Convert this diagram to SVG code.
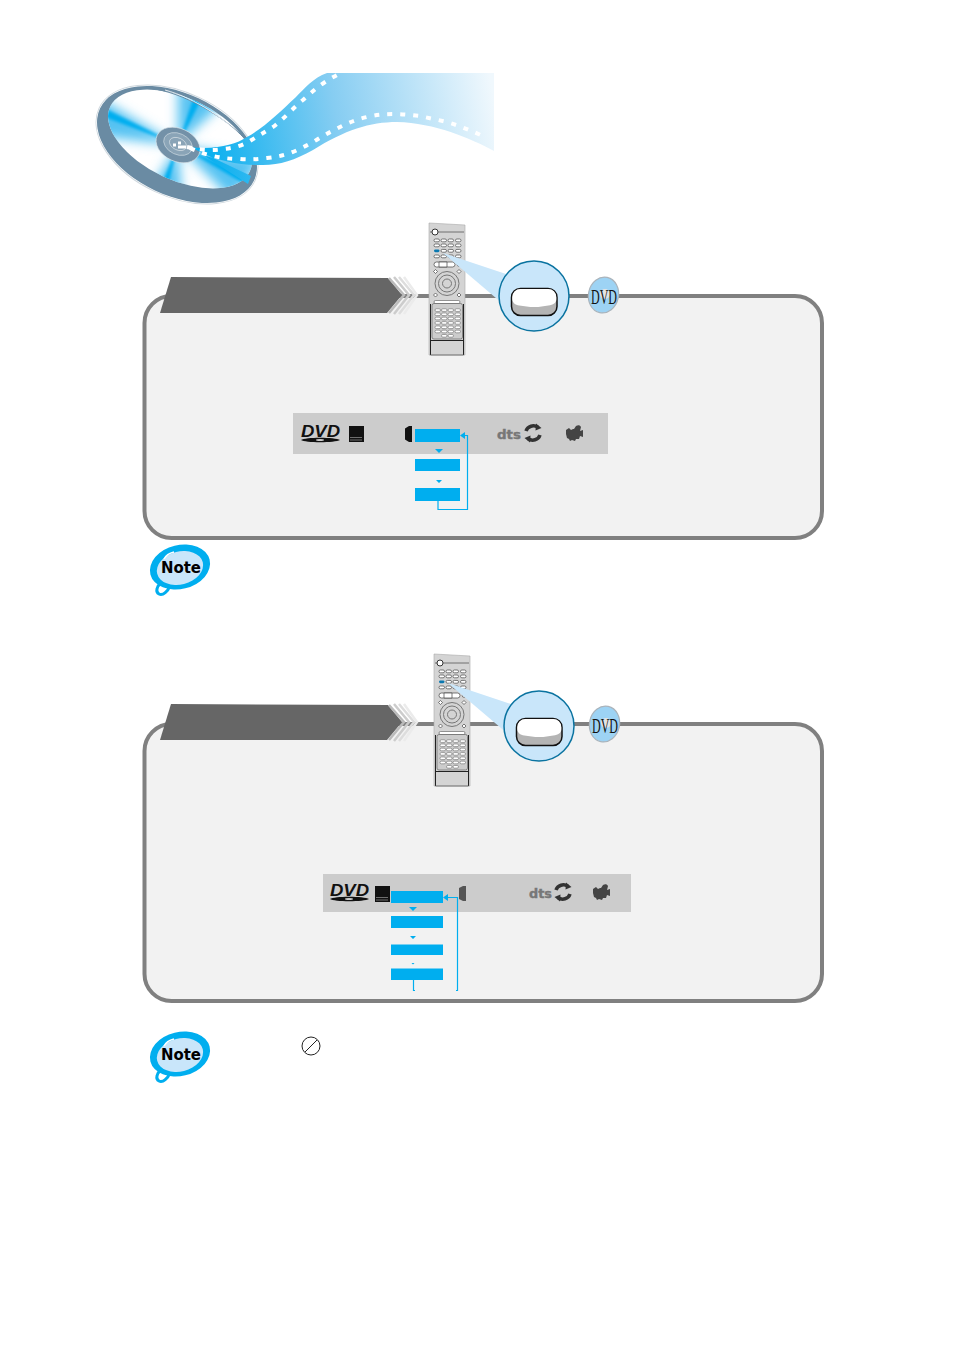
<svg xmlns="http://www.w3.org/2000/svg" xmlns:xlink="http://www.w3.org/1999/xlink" width="954" height="1351" viewBox="0 0 954 1351">
<style>
.panel{fill:#f2f2f2;stroke:#808080;stroke-width:4}
.blue{fill:#00aeef}
.link{fill:none;stroke:#00aeef;stroke-width:1.2}
.bar{fill:#ccc}
.k{fill:#fff;stroke:#444;stroke-width:.7}
.rl{fill:none;stroke:#777;stroke-width:1}
.perf{fill:none;stroke:#fff;stroke-width:4;stroke-dasharray:5 8}
</style>
<defs>
<linearGradient id="film" gradientUnits="userSpaceOnUse" x1="210" y1="150" x2="494" y2="100"><stop offset="0" stop-color="#0cb0ef"/><stop offset=".45" stop-color="#86cdf2"/><stop offset="1" stop-color="#f0f8fd"/></linearGradient>
<filter id="soft" x="-40%" y="-40%" width="180%" height="180%"><feGaussianBlur stdDeviation="6"/></filter>
<filter id="soft2" x="-30%" y="-30%" width="160%" height="160%"><feGaussianBlur stdDeviation="1.500"/></filter>
<clipPath id="discClip"><ellipse cx="180" cy="139" rx="77" ry="41" transform="rotate(25 180 139)"/></clipPath>
<g id="remote">
<path d="M429 223L465 225V355H429Z" fill="#d4d4d4" stroke="#aaa" stroke-width=".6"/>
<path d="M430 232H464" stroke="#555" stroke-width=".8"/>
<circle cx="435" cy="232" r="3" fill="#fff" stroke="#333" stroke-width="1"/>
<g>
<rect class="k" x="434" y="239" width="5.500" height="2.800" rx="1.400"/><rect class="k" x="441" y="239" width="5.500" height="2.800" rx="1.400"/><rect class="k" x="448" y="239" width="5.500" height="2.800" rx="1.400"/><rect class="k" x="455.500" y="239" width="5.500" height="2.800" rx="1.400"/>
<rect class="k" x="434" y="244" width="5.500" height="2.800" rx="1.400"/><rect class="k" x="441" y="244" width="5.500" height="2.800" rx="1.400"/><rect class="k" x="448" y="244" width="5.500" height="2.800" rx="1.400"/><rect class="k" x="455.500" y="244" width="5.500" height="2.800" rx="1.400"/>
<rect x="434" y="249.400" width="5.500" height="2.800" rx="1.400" fill="#0a78b0"/><rect class="k" x="441" y="249.400" width="5.500" height="2.800" rx="1.400"/><rect class="k" x="448" y="249.400" width="5.500" height="2.800" rx="1.400"/><rect class="k" x="455.500" y="249.400" width="5.500" height="2.800" rx="1.400"/>
<rect class="k" x="434" y="255" width="5.500" height="2.800" rx="1.400"/><rect class="k" x="441" y="255" width="5.500" height="2.800" rx="1.400"/><rect class="k" x="448" y="255" width="5.500" height="2.800" rx="1.400"/><rect class="k" x="455.500" y="255" width="5.500" height="2.800" rx="1.400"/>
</g>
<rect class="k" x="434" y="262" width="21" height="5" rx="2.500"/>
<path class="k" d="M439 262h8v5h-8z"/>
<circle class="k" cx="459" cy="264.500" r="1.800"/>
<path class="k" d="M435.500 269.500l2 2-2 2-2-2zM459 269.500l2 2-2 2-2-2zM435.500 293l2 2-2 2-2-2zM459 293l2 2-2 2-2-2z"/>
<circle class="rl" cx="447" cy="283.500" r="12"/><circle class="rl" cx="447" cy="283.500" r="8.500"/><circle class="rl" cx="447" cy="283.500" r="4.500"/>
<rect x="434" y="300.500" width="26" height="3" rx="1.500" fill="#fff" stroke="#555" stroke-width=".6"/>
<rect x="432" y="303.500" width="30.500" height="35.500" rx="2" fill="#ccc" stroke="#666" stroke-width=".7"/>
<g fill="#fff" stroke="#555" stroke-width=".5">
<rect x="435" y="308.800" width="5.500" height="2.600" rx="1.300"/><rect x="441.500" y="308.800" width="5.500" height="2.600" rx="1.300"/><rect x="448" y="308.800" width="5.500" height="2.600" rx="1.300"/><rect x="455" y="308.800" width="5.500" height="2.600" rx="1.300"/>
<rect x="435" y="313" width="5.500" height="2.600" rx="1.300"/><rect x="441.500" y="313" width="5.500" height="2.600" rx="1.300"/><rect x="448" y="313" width="5.500" height="2.600" rx="1.300"/><rect x="455" y="313" width="5.500" height="2.600" rx="1.300"/>
<rect x="435" y="317.200" width="5.500" height="2.600" rx="1.300"/><rect x="441.500" y="317.200" width="5.500" height="2.600" rx="1.300"/><rect x="448" y="317.200" width="5.500" height="2.600" rx="1.300"/><rect x="455" y="317.200" width="5.500" height="2.600" rx="1.300"/>
<rect x="435" y="321.600" width="5.500" height="2.600" rx="1.300"/><rect x="441.500" y="321.600" width="5.500" height="2.600" rx="1.300"/><rect x="448" y="321.600" width="5.500" height="2.600" rx="1.300"/><rect x="455" y="321.600" width="5.500" height="2.600" rx="1.300"/>
<rect x="435" y="326" width="5.500" height="2.600" rx="1.300"/><rect x="441.500" y="326" width="5.500" height="2.600" rx="1.300"/><rect x="448" y="326" width="5.500" height="2.600" rx="1.300"/><rect x="455" y="326" width="5.500" height="2.600" rx="1.300"/>
<rect x="435" y="330.200" width="5.500" height="2.600" rx="1.300"/><rect x="441.500" y="330.200" width="5.500" height="2.600" rx="1.300"/><rect x="448" y="330.200" width="5.500" height="2.600" rx="1.300"/><rect x="455" y="330.200" width="5.500" height="2.600" rx="1.300"/>
<rect x="441.500" y="334.500" width="5.500" height="2.600" rx="1.300"/><rect x="448" y="334.500" width="5.500" height="2.600" rx="1.300"/>
</g>
<path d="M430.500 304V355M463.500 304V355M430.500 340.500H463.500" fill="none" stroke="#222" stroke-width="1"/>
<path d="M430.500 355H463.500" stroke="#777" stroke-width="1"/>
</g>
<g id="callout">
<path d="M443 253L506 274L503 304Z" fill="#c9e6fa"/>
<circle cx="534" cy="296" r="35" fill="#c9e6fa" stroke="#0a73a0" stroke-width="1.500"/>
<rect x="511.500" y="288.500" width="45.500" height="27" rx="9" fill="#b4b4b4" stroke="#111" stroke-width="1.500"/>
<path d="M512.300 297a8 8 0 0 1 8-8h28a8 8 0 0 1 8 8v2c0 4-3 6-8 6.500l-10 1.500h-8l-11-1.500c-4-.5-7-3-7-6.500z" fill="#fff"/>
</g>
<g id="badge">
<ellipse cx="603.500" cy="295" rx="15" ry="18" transform="rotate(12 603.500 295)" fill="#9dd3f4" stroke="#aab4bc" stroke-width="1.200"/>
<circle cx="605" cy="294" r="5" fill="#e4e4e4"/>
<text x="604" y="303.500" font-family="'Liberation Serif',serif" font-size="21" text-anchor="middle" textLength="26" lengthAdjust="spacingAndGlyphs" fill="#111">DVD</text>
</g>
<g id="chev">
<path d="M160 313L171 277L388 278L402 295L387 313Z" fill="#666"/>
<path d="M389 278L404 295L389 313" fill="none" stroke="#bbb" stroke-width="2.500"/>
<path d="M394 277L409 295L394 314" fill="none" stroke="#ccc" stroke-width="2.500"/>
<path d="M399 277L414 295L399 314" fill="none" stroke="#ddd" stroke-width="2.500"/>
<path d="M404 277L417 295L404 314" fill="none" stroke="#ebebeb" stroke-width="2.500"/>
</g>
<g id="note">
<path d="M161 583c-4 3-6 9-2 11 4 2 9-3 11-8" fill="none" stroke="#00aeef" stroke-width="3"/>
<ellipse cx="180" cy="567" rx="30.500" ry="22" transform="rotate(-14 180 567)" fill="#00aeef"/>
<ellipse cx="180" cy="568" rx="23.500" ry="16.500" transform="rotate(-14 180 568)" fill="#c9e6fa"/>
<path d="M164 559c2-4 6-6 10-7" fill="none" stroke="#fff" stroke-width="1.500"/>
<text x="181" y="573" font-family="'DejaVu Sans',sans-serif" font-weight="700" font-size="16" text-anchor="middle" textLength="40" lengthAdjust="spacingAndGlyphs" fill="#000">Note</text>
</g>
<g id="dvdlogo">
<text x="320.500" y="437" font-family="'Liberation Sans',sans-serif" font-weight="700" font-style="italic" font-size="16" text-anchor="middle" textLength="39" lengthAdjust="spacingAndGlyphs" fill="#111">DVD</text>
<path d="M301 440c4-3 34-3 39 0c-5 3-35 3-39 0Z" fill="#111"/><ellipse cx="320" cy="440" rx="4" ry="1" fill="#ccc"/>
</g>
<g id="sq">
<rect x="349" y="426" width="15" height="16" fill="#111"/>
<path d="M350.500 437.500h12M350.500 440h12" stroke="#ccc" stroke-width="1" stroke-dasharray="1 1"/>
</g>
<g id="arrows">
<path d="M526 431a7.500 7 0 0 1 12-3.500M540 435a7.500 7 0 0 1-12 3.500" fill="none" stroke="#333" stroke-width="3.500"/>
<path d="M536 423.500l5.500 4.500-6 2.500zM530 442.500l-5.500-4.500 6-2.500z" fill="#333"/>
</g>
<path id="cam" d="M566 430l3-2 2 2 2-1h1l2-3c2-1 4-1 5 1l-1 4 3-1v7l-3-1-1 3h-3l-1 2-3-1-2 1-1-2-2-1-1-4z" fill="#444"/>
</defs>
<g id="disc">
<ellipse cx="177" cy="144.500" rx="86" ry="52" transform="rotate(25 177 144.500)" fill="#fff" stroke="#cfd8de" stroke-width="1"/>
<ellipse cx="177" cy="144.500" rx="85" ry="51" transform="rotate(25 177 144.500)" fill="#6a8ba3"/>
<ellipse cx="180" cy="139" rx="77" ry="41" transform="rotate(25 180 139)" fill="#fff"/>
<g clip-path="url(#discClip)">
<g fill="#55c2f2" filter="url(#soft)">
<path d="M178 145L96 96L96 136Z"/><path d="M178 145L178 84L222 104Z"/><path d="M178 145L145 198L182 200Z"/><path d="M178 145L262 160L232 200Z"/>
</g>
<g fill="#00aeef" filter="url(#soft2)">
<path d="M178 145L104 108L102 116Z"/><path d="M178 145L194 96L201 100Z"/><path d="M178 145L160 188L167 190Z"/><path d="M178 145L252 178L248 186Z"/>
</g>
</g>
<path d="M148 88C185 92 225 118 244 138" fill="none" stroke="#6a8ba3" stroke-width="1"/>
<path d="M165 90C195 98 228 120 246 142" fill="none" stroke="#fff" stroke-width=".8"/>
<ellipse cx="178" cy="145" rx="23" ry="16.500" transform="rotate(25 178 145)" fill="#7391a8" stroke="#dfe7ec" stroke-width=".6"/>
<ellipse cx="178" cy="144" rx="15" ry="10.500" transform="rotate(25 178 144)" fill="#8aa4b7" stroke="#c5d3dc" stroke-width=".7"/>
<ellipse cx="178" cy="144" rx="9" ry="6" transform="rotate(25 178 144)" fill="none" stroke="#dfe7ec" stroke-width=".6"/>
</g>
<g id="film-strip">
<path d="M190 147C215 150 235 145 247 137C265 127 280 112 296 97C305 88 313 78 327 73H494V151C470 138 435 123 397 122C370 122 345 130 313 150C295 160 280 165 263 165C240 166 220 160 203 155L248 184L251 176Z" fill="url(#film)"/>
<path d="M187 147C200 150 212 151 223 149C235 148 243 145 250 141C258 136 265 132 273 127C285 118 293 108 303 100C312 92 320 84 337 75" class="perf"/>
<path d="M190 148C198 152 205 154 213 156C222 158 230 159 240 159C250 160 258 159 267 158C277 157 285 155 293 152C302 148 310 144 318 139C326 134 334 130 342 126C350 122 358 119 367 117C376 115 384 114 393 114C402 114 411 115 420 116C429 118 438 120 447 122C460 126 472 131 485 137" class="perf"/>
<path d="M173 145h3M178 143h3M178 147h8" fill="none" stroke="#fff" stroke-width="3"/>
</g>
<g id="panel-1">
<rect class="panel" x="144.500" y="296" width="677.500" height="242" rx="27"/>
<use id="banner-1" href="#chev" xlink:href="#chev"/>
<use id="remote-1" href="#remote" xlink:href="#remote"/>
<use id="callout-1" href="#callout" xlink:href="#callout"/>
<use id="badge-1" href="#badge" xlink:href="#badge"/>
</g>
<g id="menu-1">
<rect class="bar" x="293" y="413" width="315" height="41"/>
<use href="#dvdlogo" xlink:href="#dvdlogo"/>
<use href="#sq" xlink:href="#sq"/>
<path d="M405 428.500l4-2.500h3v16h-3l-4-2.500z" fill="#111"/>
<text x="497" y="439" font-family="'DejaVu Sans',sans-serif" font-weight="700" font-size="13" textLength="24" lengthAdjust="spacingAndGlyphs" fill="#777" stroke="#777" stroke-width=".4">dts</text>
<use href="#arrows" xlink:href="#arrows"/>
<use href="#cam" xlink:href="#cam"/>
<rect class="blue" x="415" y="429" width="45" height="13"/>
<rect class="blue" x="415" y="459" width="45" height="12"/>
<rect class="blue" x="415" y="488" width="45" height="13"/>
<path class="blue" d="M435 449h8l-4 4zM436 480h6l-3 3z"/>
</g>
<use id="note-1" href="#note" xlink:href="#note"/>
<g id="panel-2">
<rect class="panel" x="144.500" y="724" width="677.500" height="277" rx="27"/>
<use id="banner-2" href="#chev" xlink:href="#chev" transform="translate(0 427)"/>
<use id="remote-2" href="#remote" xlink:href="#remote" transform="translate(5 431)"/>
<use id="callout-2" href="#callout" xlink:href="#callout" transform="translate(5 430)"/>
<use id="badge-2" href="#badge" xlink:href="#badge" transform="translate(1 429)"/>
</g>
<g id="menu-2">
<rect class="bar" x="323" y="874" width="308" height="38"/>
<use href="#dvdlogo" xlink:href="#dvdlogo" transform="translate(29 459)"/>
<use href="#sq" xlink:href="#sq" transform="translate(26 460)"/>
<path d="M459 888l4-2h3v15h-3l-4-2z" fill="#555"/>
<text x="529" y="898" font-family="'DejaVu Sans',sans-serif" font-weight="700" font-size="13" textLength="23" lengthAdjust="spacingAndGlyphs" fill="#777" stroke="#777" stroke-width=".4">dts</text>
<use href="#arrows" xlink:href="#arrows" transform="translate(30 459)"/>
<use href="#cam" xlink:href="#cam" transform="translate(27 459)"/>
<rect class="blue" x="391" y="891" width="52" height="12"/>
<rect class="blue" x="391" y="916" width="52" height="12"/>
<rect class="blue" x="391" y="944.500" width="52" height="10.500"/>
<rect class="blue" x="391" y="968.500" width="52" height="11.500"/>
<path class="blue" d="M409 907h8l-4 4zM410 936h6l-3 3zM411.500 963h3l-1.500 1.500z"/>
</g>
<use id="note-2" href="#note" xlink:href="#note" transform="translate(0 487)"/>
<g id="prohibit" fill="none" stroke="#222" stroke-width="1">
<circle cx="311" cy="1046" r="9"/><path d="M305 1052L317 1040"/>
</g>
<g id="connectors">
<path class="link" d="M438 501V509.500H467.500V435.500H463"/>
<path class="blue" d="M460 435.500l5-3.500v7z"/>
<path class="link" d="M413.500 980V990.500h1.500M456 990.500h1.500V897.500H446"/>
<path class="blue" d="M443 897.500l5-3.500v7z"/>
</g>
</svg>
